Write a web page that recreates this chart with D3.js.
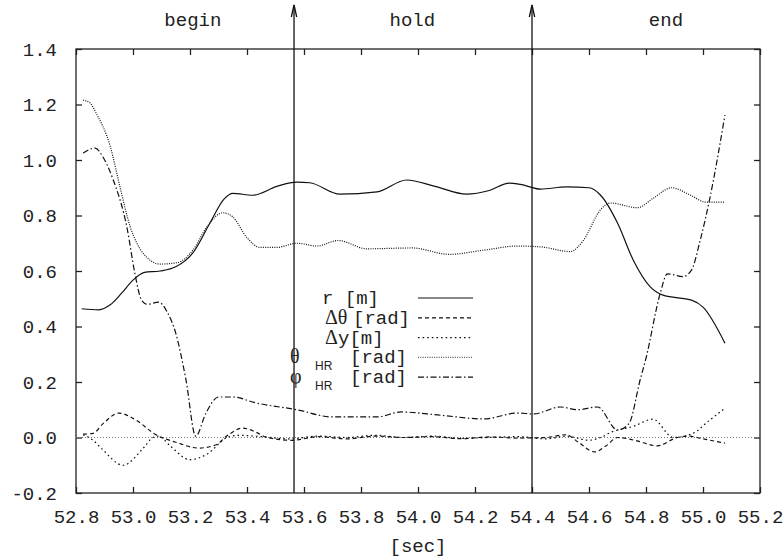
<html lang="en">
<head>
  <meta charset="utf-8"/>
  <title>begin / hold / end</title>
  <script src="https://d3js.org/d3.v7.min.js"></script>
  <style>
  body { margin: 0; background: white; }
  text { font-family: "Liberation Mono", "DejaVu Sans Mono", monospace; font-size: 19px; fill: #222; }
  .greek { font-family: "Liberation Serif", serif; font-size: 20px; }
  .sub { font-family: "Liberation Sans", sans-serif; font-size: 12px; }
  .frame { fill: none; stroke: #222; stroke-width: 1.3px; }
  .tick line { stroke: #222; stroke-width: 1.3px; }
  .series { fill: none; stroke: #111; stroke-width: 1.2px; }
  </style>
</head>
<body>
  <svg id="chart" width="784" height="559"></svg>
  <script>
    // --- data ---
    const xTicks = [52.8, 53.0, 53.2, 53.4, 53.6, 53.8, 54.0, 54.2, 54.4, 54.6, 54.8, 55.0, 55.2];
    const yTicks = [-0.2, 0.0, 0.2, 0.4, 0.6, 0.8, 1.0, 1.2, 1.4];
    const phaseNames = ["begin", "hold", "end"];
    const phaseLabelAt = [53.21, 53.98, 54.87];
    const phaseMarks = [53.565, 54.4];
    const xLabel = "[sec]";

    const rData = [[52.82,0.464],[52.88,0.46],[52.92,0.478],[52.96,0.52],[53.0,0.567],[53.04,0.595],
      [53.095,0.60],[53.15,0.615],[53.21,0.665],[53.27,0.773],[53.32,0.86],[53.35,0.88],[53.42,0.873],
      [53.505,0.905],[53.575,0.92],[53.62,0.918],[53.726,0.877],[53.856,0.885],[53.96,0.928],[54.06,0.905],
      [54.17,0.877],[54.25,0.89],[54.32,0.917],[54.36,0.912],[54.43,0.895],[54.52,0.903],[54.60,0.9],
      [54.64,0.874],[54.70,0.773],[54.755,0.64],[54.815,0.543],[54.86,0.513],[54.92,0.502],[54.96,0.495],
      [55.0,0.47],[55.077,0.34]];

    const dThetaData = [[52.825,0.012],[52.86,0.015],[52.895,0.05],[52.95,0.088],[53.01,0.063],[53.08,0.01],
      [53.15,-0.017],[53.23,-0.038],[53.29,-0.027],[53.335,0.01],[53.385,0.034],[53.43,0.02],[53.47,0.0],
      [53.56,-0.01],[53.65,0.003],[53.75,-0.005],[53.85,0.005],[53.95,0.0],[54.05,0.003],[54.15,-0.004],
      [54.25,0.002],[54.35,-0.002],[54.45,0.0],[54.52,0.01],[54.56,-0.015],[54.62,-0.052],[54.66,-0.03],
      [54.70,0.0],[54.76,-0.01],[54.84,-0.03],[54.91,0.0],[54.95,0.005],[55.0,-0.005],[55.077,-0.02]];

    const dyData = [[52.825,0.01],[52.86,-0.01],[52.89,-0.04],[52.965,-0.10],[53.035,-0.04],[53.07,0.0],
      [53.09,0.005],[53.13,-0.03],[53.2,-0.08],[53.26,-0.06],[53.33,0.0],[53.37,0.008],[53.45,0.003],
      [53.55,-0.005],[53.65,0.005],[53.75,0.0],[53.85,0.008],[53.95,0.0],[54.05,0.005],[54.15,-0.003],
      [54.25,0.0],[54.35,0.003],[54.45,-0.005],[54.52,0.005],[54.6,-0.01],[54.64,0.0],[54.68,0.02],
      [54.755,0.04],[54.825,0.066],[54.895,0.0],[54.965,0.015],[55.02,0.06],[55.077,0.105]];

    const thetaHRData = [[52.825,1.216],[52.85,1.205],[52.87,1.17],[52.92,1.05],[52.955,0.90],[52.99,0.76],
      [53.035,0.665],[53.095,0.625],[53.155,0.63],[53.21,0.675],[53.26,0.76],[53.315,0.81],[53.35,0.795],
      [53.40,0.72],[53.445,0.685],[53.505,0.685],[53.575,0.70],[53.645,0.69],[53.72,0.71],[53.82,0.68],
      [53.98,0.683],[54.11,0.66],[54.23,0.675],[54.35,0.69],[54.43,0.687],[54.535,0.67],[54.58,0.71],
      [54.64,0.82],[54.675,0.845],[54.77,0.828],[54.825,0.862],[54.89,0.9],[54.955,0.874],[55.01,0.848],
      [55.077,0.848]];

    const phiHRData = [[52.825,1.025],[52.867,1.043],[52.895,1.01],[52.93,0.93],[52.98,0.75],[53.005,0.60],
      [53.03,0.495],[53.05,0.48],[53.09,0.488],[53.12,0.452],[53.15,0.376],[53.186,0.207],[53.22,0.005],
      [53.256,0.088],[53.30,0.146],[53.35,0.146],[53.43,0.125],[53.575,0.10],[53.70,0.074],[53.855,0.074],
      [53.94,0.092],[54.08,0.08],[54.23,0.067],[54.35,0.088],[54.405,0.085],[54.5,0.11],[54.56,0.10],
      [54.63,0.11],[54.70,0.027],[54.74,0.05],[54.78,0.21],[54.80,0.286],[54.85,0.52],[54.875,0.59],
      [54.93,0.58],[54.96,0.604],[54.99,0.71],[55.025,0.867],[55.077,1.162]];

    const svg = d3.select("#chart");
    const width = +svg.attr("width");
    const height = +svg.attr("height");
    const margin = { top: 49, right: 24, bottom: 66, left: 76 };
    const w = width - margin.left - margin.right;
    const h = height - margin.top - margin.bottom;
    const g = svg.append("g").attr("transform", "translate(" + margin.left + "," + margin.top + ")");

    const x = d3.scaleLinear().domain([52.8, 55.2]).range([0, w]);
    const y = d3.scaleLinear().domain([-0.2, 1.4]).range([h, 0]);
    const fmt = v => d3.format(".1f")(v).replace("\u2212", "-");

    // axes, ticks pointing inward
    g.append("g").attr("transform", "translate(0," + h + ")")
      .call(d3.axisBottom(x).tickValues(xTicks).tickFormat(fmt).tickSize(-6).tickSizeOuter(0).tickPadding(17))
      .call(a => a.select(".domain").remove());
    g.append("g")
      .call(d3.axisTop(x).tickValues(xTicks).tickFormat("").tickSize(-6).tickSizeOuter(0))
      .call(a => a.select(".domain").remove());
    g.append("g")
      .call(d3.axisLeft(y).tickValues(yTicks).tickFormat(fmt).tickSize(-6).tickSizeOuter(0).tickPadding(19))
      .call(a => a.select(".domain").remove());
    g.append("g").attr("transform", "translate(" + w + ",0)")
      .call(d3.axisRight(y).tickValues(yTicks).tickFormat("").tickSize(-6).tickSizeOuter(0))
      .call(a => a.select(".domain").remove());
    g.selectAll(".tick text").attr("font-family", null).attr("font-size", null);

    g.append("rect").attr("class", "frame").attr("width", w).attr("height", h);

    // zero line
    g.append("line").attr("x1", 0).attr("x2", w).attr("y1", y(0)).attr("y2", y(0))
      .attr("stroke", "#777").attr("stroke-width", 1).attr("stroke-dasharray", "1,2");

    const line = d3.line().x(d => x(d[0])).y(d => y(d[1])).curve(d3.curveMonotoneX);

    const series = [
      { data: rData, dash: null, color: "#111" },
      { data: dThetaData, dash: "4,3", color: "#111" },
      { data: dyData, dash: "1.6,3", color: "#111" },
      { data: thetaHRData, dash: "1,1.3", color: "#555" },
      { data: phiHRData, dash: "6,2.5,1.5,2.5", color: "#111" }
    ];

    g.selectAll("path.series").data(series).join("path")
      .attr("class", "series")
      .attr("stroke", d => d.color)
      .attr("stroke-dasharray", d => d.dash)
      .attr("d", d => line(d.data));

    // phase arrows
    phaseMarks.forEach(t => {
      const px = x(t), top = 5 - margin.top;
      g.append("line").attr("x1", px).attr("x2", px).attr("y1", h).attr("y2", top)
        .attr("stroke", "#111").attr("stroke-width", 1.3);
      g.append("path").attr("d", "M" + (px - 2.7) + "," + (top + 12) + "L" + px + "," + top + "L" + (px + 2.7) + "," + (top + 12))
        .attr("fill", "none").attr("stroke", "#111").attr("stroke-width", 1.3);
    });

    g.selectAll("text.phase").data(phaseNames).join("text")
      .attr("class", "phase")
      .attr("x", (d, i) => x(phaseLabelAt[i]))
      .attr("y", 26 - margin.top)
      .attr("text-anchor", "middle")
      .text(d => d);

    svg.append("text").attr("x", margin.left + w / 2).attr("y", 552)
      .attr("text-anchor", "middle").text(xLabel);

    // legend
    const legendRows = [
      { x: 322, parts: [{ t: "r [m]", dx: 0 }] },
      { x: 325, parts: [{ t: "\u0394\u03b8", dx: 0, cls: "greek" }, { t: "[rad]", dx: 28 }] },
      { x: 325, parts: [{ t: "\u0394", dx: 0, cls: "greek" }, { t: "y[m]", dx: 13 }] },
      { x: 290, parts: [{ t: "\u03b8", dx: 0, cls: "greek" }, { t: "HR", dx: 25, cls: "sub", sub: true }, { t: "[rad]", dx: 60 }] },
      { x: 290, parts: [{ t: "\u03c6", dx: 0, cls: "greek" }, { t: "HR", dx: 25, cls: "sub", sub: true }, { t: "[rad]", dx: 60 }] }
    ];
    legendRows.forEach((row, i) => {
      const ly = 298 + i * 19.8;
      const txt = svg.append("text").attr("y", ly + 6);
      row.parts.forEach(p => {
        txt.append("tspan").attr("x", row.x + p.dx).attr("y", ly + 6 + (p.sub ? 7 : 0))
          .attr("class", p.cls || null).text(p.t);
      });
      svg.append("line").attr("x1", 418).attr("x2", 473).attr("y1", ly).attr("y2", ly)
        .attr("stroke", series[i].color).attr("stroke-width", 1.2)
        .attr("stroke-dasharray", series[i].dash);
    });
  </script>
</body>
</html>
